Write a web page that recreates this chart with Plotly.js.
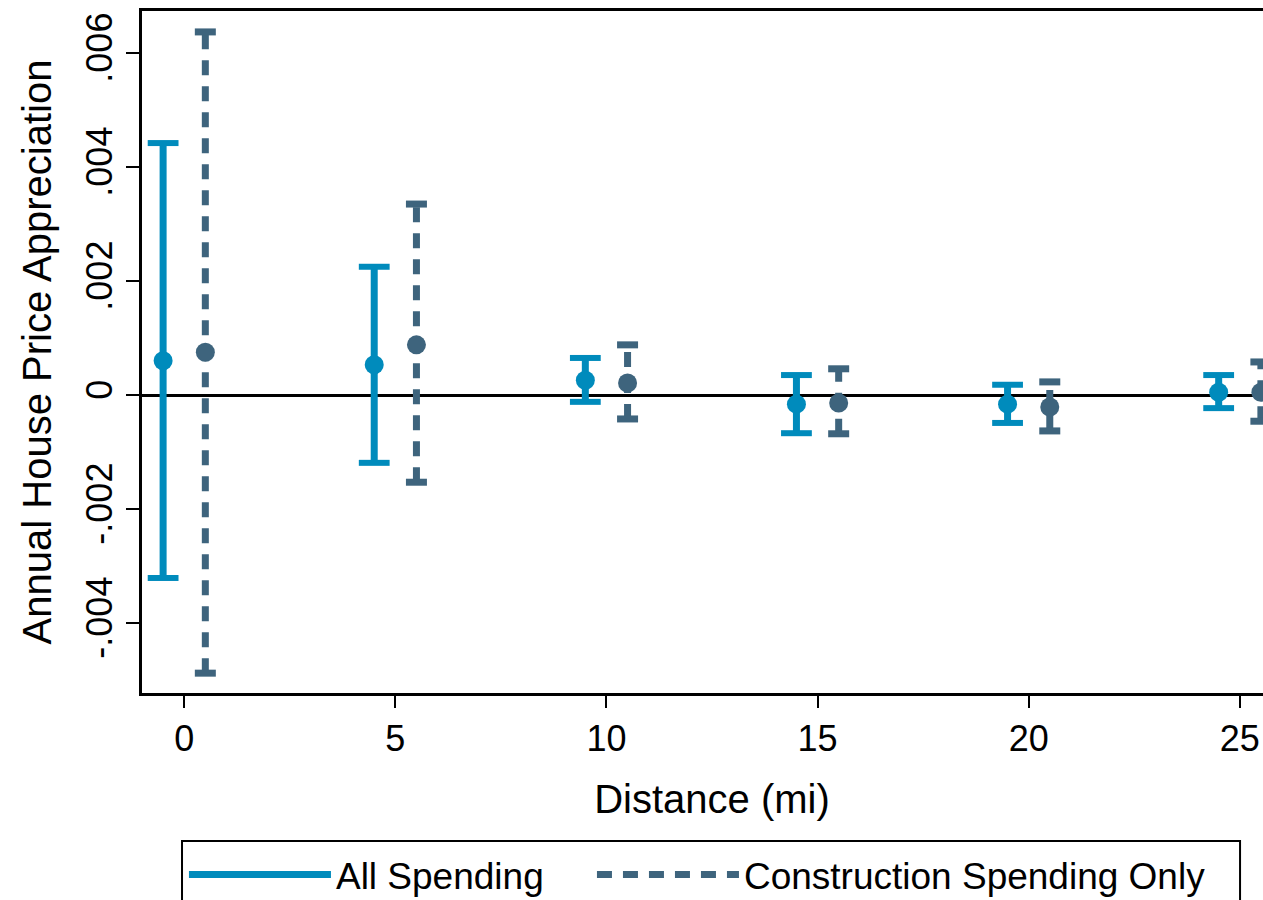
<!DOCTYPE html>
<html>
<head>
<meta charset="utf-8">
<script src="https://cdn.plot.ly/plotly-3.0.1.min.js"></script>
<style>
  html, body { margin: 0; padding: 0; overflow: hidden; background: #fff; }
  #chart { width: 1282px; height: 900px; }
</style>
</head>
<body>
<div id="chart"></div>
<script>
// Distance bins (mi)
const distances = [0, 5, 10, 15, 20, 25];
const dodge = 0.5;

// All Spending
const allEst = [0.00060, 0.00053, 0.00026, -0.00016, -0.00016, 0.00005];
const allLo  = [-0.00321, -0.00119, -0.00012, -0.00067, -0.00049, -0.00023];
const allHi  = [0.00442, 0.00225, 0.00065, 0.00035, 0.00018, 0.00035];

// Construction Spending Only
const conEst = [0.00075, 0.00088, 0.00021, -0.00014, -0.00021, 0.00005];
const conLo  = [-0.00488, -0.00153, -0.00042, -0.00068, -0.00063, -0.00046];
const conHi  = [0.00637, 0.00335, 0.00088, 0.00046, 0.00023, 0.00058];

const yTickVals = [-0.004, -0.002, 0, 0.002, 0.004, 0.006];
const yTickText = ["-.004", "-.002", "0", ".002", ".004", ".006"];
const xTickVals = [0, 5, 10, 15, 20, 25];

const blue = "#008BBC";
const navy = "#3E647D";
const FONT = "Liberation Sans, Arial, Helvetica, sans-serif";

function seriesTraces(name, off, est, lo, hi, color, dash, capSize, capW, legendId) {
  const xs = distances.map(d => d + off);
  const segX = [], segY = [];
  xs.forEach((x, i) => { segX.push(x, x, null); segY.push(lo[i], hi[i], null); });
  const capX = xs.concat(xs);
  const capY = lo.concat(hi);
  return [
    { type: "scatter", mode: "lines", name: name, x: segX, y: segY, legend: legendId,
      line: { color: color, width: 7, dash: dash }, hoverinfo: "skip", showlegend: true },
    { type: "scatter", mode: "markers", x: capX, y: capY, showlegend: false, hoverinfo: "skip",
      marker: { symbol: "line-ew", size: capSize, line: { color: color, width: capW } } },
    { type: "scatter", mode: "markers", x: xs, y: est, showlegend: false,
      marker: { symbol: "circle", size: 19, color: color } }
  ];
}

const data = []
  .concat(seriesTraces("All Spending", -dodge, allEst, allLo, allHi, blue, "solid", 22, 6, "legend"))
  .concat(seriesTraces("Construction Spending Only", dodge, conEst, conLo, conHi, navy, "15px,11px", 15, 7, "legend2"));

const legendBase = {
  orientation: "h", y: -0.2214, xanchor: "left", yanchor: "top",
  borderwidth: 0, bgcolor: "rgba(0,0,0,0)",
  font: { size: 37, family: FONT },
  itemwidth: 142
};

const layout = {
  width: 1282, height: 900,
  margin: { l: 142, r: 0, t: 11, b: 207, autoexpand: false },
  paper_bgcolor: "#fff", plot_bgcolor: "#fff",
  font: { family: FONT, color: "#000", size: 36 },
  showlegend: true,
  xaxis: {
    range: [-1, 26], showgrid: false, zeroline: false,
    showline: true, linecolor: "#000", linewidth: 3, mirror: true,
    tickmode: "array", tickvals: xTickVals,
    ticks: "outside", ticklen: 12, tickwidth: 2, tickcolor: "#000",
    tickfont: { size: 36, family: FONT },
    title: { text: "Distance (mi)", font: { size: 40, family: FONT }, standoff: 27 }
  },
  yaxis: {
    range: [-0.005228, 0.006737], showgrid: false,
    zeroline: true, zerolinecolor: "#000", zerolinewidth: 3,
    showline: true, linecolor: "#000", linewidth: 3, mirror: true,
    tickmode: "array", tickvals: yTickVals, ticktext: yTickText,
    ticks: "outside", ticklen: 13, tickwidth: 2, tickcolor: "#000",
    tickangle: -90,
    tickfont: { size: 36, family: FONT },
    title: { text: "Annual House Price Appreciation", font: { size: 40, family: FONT }, standoff: 15 }
  },
  legend: Object.assign({}, legendBase, { x: 0.0368 }),
  legend2: Object.assign({}, legendBase, { x: 0.3947 }),
  shapes: [{
    type: "rect", xref: "paper", yref: "paper",
    x0: 0.0351, x1: 0.9632, y0: -0.217, y1: -0.32,
    line: { color: "#000", width: 2 }, fillcolor: "rgba(0,0,0,0)"
  }]
};

Plotly.newPlot("chart", data, layout, { displayModeBar: false, staticPlot: true });
</script>
</body>
</html>
